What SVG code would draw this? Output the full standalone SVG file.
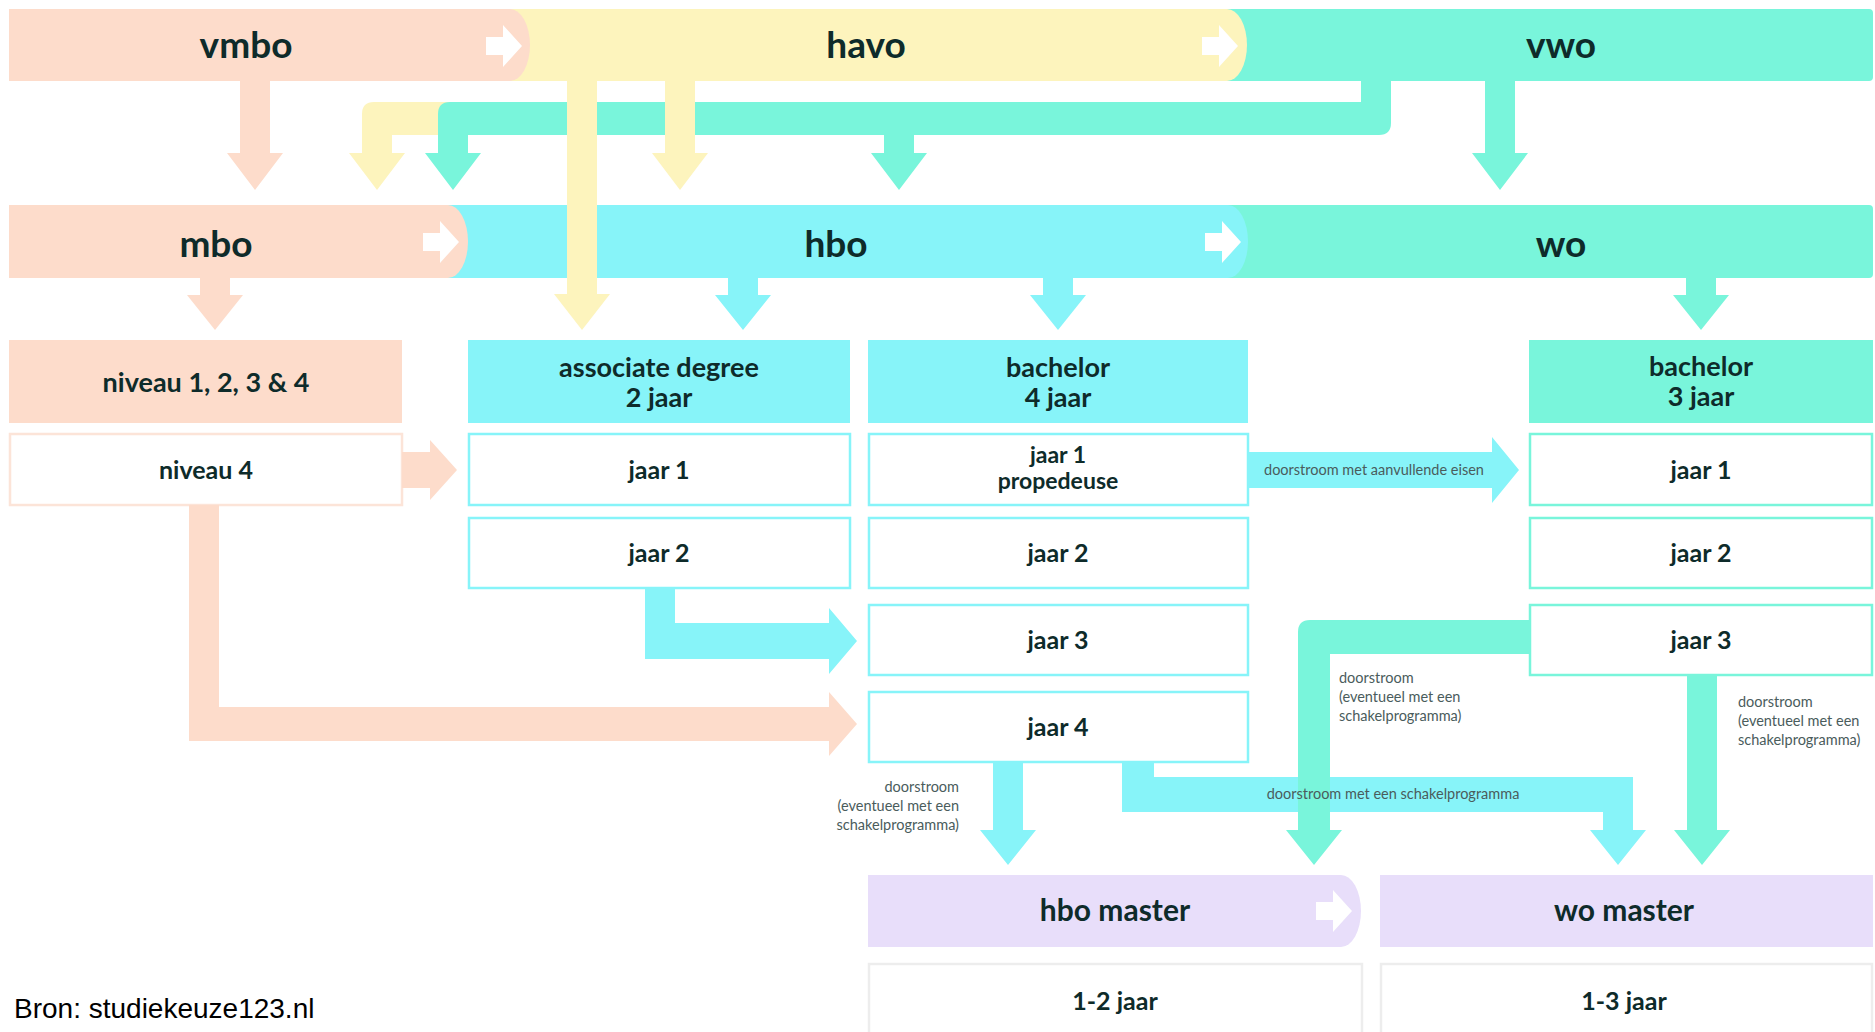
<svg xmlns="http://www.w3.org/2000/svg" width="1875" height="1032" viewBox="0 0 1875 1032">
<style>
.t{font-family:Lato,"Open Sans","DejaVu Sans",sans-serif;font-weight:700;fill:#0E2B2A;text-anchor:middle}
.big{font-size:37px}
.hd{font-size:27px}
.yr{font-size:25px}
.yr2{font-size:23px}
.ms{font-size:30px}
.lb{font-family:Lato,"Open Sans","DejaVu Sans",sans-serif;font-weight:400;font-size:14.5px;fill:#4A5C5C}
.peach{fill:#FDDCCB}
.yel{fill:#FDF4BD}
.mint{fill:#79F5DB}
.cyan{fill:#87F4F9}
.lav{fill:#E8DEFA}
.bx{fill:#FFFFFF;stroke-width:2.5}
.bc{stroke:#87F4F9}
.bm{stroke:#79F5DB}
.bp{stroke:#FCE4D8}
.bg{stroke:#EDEDED}
.wa{fill:#FFFFFF}
</style>
<defs>
<path id="warr" d="M0,-9 H17 V-21 L36,0 L17,21 V9 H0 Z"/>
</defs>
<rect width="1875" height="1032" fill="#FFFFFF"/>

<!-- row 1 bands -->
<g id="vwo">
<rect x="1200" y="9" width="673" height="72" rx="4" class="mint"/>
<text x="1561" y="58" class="t big">vwo</text>
</g>
<g id="havo">
<path d="M500,9 H1227 A20 36 0 0 1 1227,81 H500 Z" class="yel"/>
<use href="#warr" x="1202" y="46" class="wa"/>
<text x="866" y="58" class="t big">havo</text>
</g>
<g id="vmbo">
<path d="M9,9 H510 A20 36 0 0 1 510,81 H9 Z" class="peach"/>
<use href="#warr" x="486" y="46" class="wa"/>
<text x="246" y="58" class="t big">vmbo</text>
</g>

<!-- row 2 bands -->
<g id="wo">
<rect x="1220" y="205" width="653" height="73" rx="4" class="mint"/>
<text x="1561" y="257" class="t big">wo</text>
</g>
<g id="hbo">
<path d="M440,205 H1228 A20 36.5 0 0 1 1228,278 H440 Z" class="cyan"/>
<use href="#warr" x="1205" y="242" class="wa"/>
<text x="836" y="257" class="t big">hbo</text>
</g>
<g id="mbo">
<path d="M9,205 H448 A20 36.5 0 0 1 448,278 H9 Z" class="peach"/>
<use href="#warr" x="423" y="242" class="wa"/>
<text x="216" y="257" class="t big">mbo</text>
</g>

<!-- column mbo -->
<g id="niveau-1-4">
<rect x="9" y="340" width="393" height="83" class="peach"/>
<text x="206" y="392" class="t hd">niveau 1, 2, 3 &amp; 4</text>
</g>
<g id="niveau-4">
<rect x="10" y="434" width="392" height="71" class="bx bp"/>
<text x="206" y="479" class="t yr">niveau 4</text>
</g>

<!-- column associate degree -->
<g id="ad-header">
<rect x="468" y="340" width="382" height="83" class="cyan"/>
<text x="659" y="377" class="t hd">associate degree</text>
<text x="659" y="407" class="t hd">2 jaar</text>
</g>
<g id="ad-jaar1">
<rect x="469" y="434" width="381" height="71" class="bx bc"/>
<text x="659" y="479" class="t yr">jaar 1</text>
</g>
<g id="ad-jaar2">
<rect x="469" y="518" width="381" height="70" class="bx bc"/>
<text x="659" y="562" class="t yr">jaar 2</text>
</g>

<!-- column hbo bachelor -->
<g id="hbo-bachelor-header">
<rect x="868" y="340" width="380" height="83" class="cyan"/>
<text x="1058" y="377" class="t hd">bachelor</text>
<text x="1058" y="407" class="t hd">4 jaar</text>
</g>
<g id="hbo-jaar1">
<rect x="869" y="434" width="379" height="71" class="bx bc"/>
<text x="1058" y="463" class="t yr2">jaar 1</text>
<text x="1058" y="489" class="t yr2">propedeuse</text>
</g>
<g id="hbo-jaar2">
<rect x="869" y="518" width="379" height="70" class="bx bc"/>
<text x="1058" y="562" class="t yr">jaar 2</text>
</g>
<g id="hbo-jaar3">
<rect x="869" y="605" width="379" height="70" class="bx bc"/>
<text x="1058" y="649" class="t yr">jaar 3</text>
</g>
<g id="hbo-jaar4">
<rect x="869" y="692" width="379" height="70" class="bx bc"/>
<text x="1058" y="736" class="t yr">jaar 4</text>
</g>

<!-- column wo bachelor -->
<g id="wo-bachelor-header">
<rect x="1529" y="340" width="344" height="83" class="mint"/>
<text x="1701" y="376" class="t hd">bachelor</text>
<text x="1701" y="406" class="t hd">3 jaar</text>
</g>
<g id="wo-jaar1">
<rect x="1530" y="434" width="342" height="71" class="bx bm"/>
<text x="1701" y="479" class="t yr">jaar 1</text>
</g>
<g id="wo-jaar2">
<rect x="1530" y="518" width="342" height="70" class="bx bm"/>
<text x="1701" y="562" class="t yr">jaar 2</text>
</g>
<g id="wo-jaar3">
<rect x="1530" y="605" width="342" height="70" class="bx bm"/>
<text x="1701" y="649" class="t yr">jaar 3</text>
</g>

<!-- masters -->
<g id="hbo-master">
<path d="M868,875 H1341 A20 36 0 0 1 1341,947 H868 Z" class="lav"/>
<use href="#warr" x="1316" y="911" class="wa"/>
<text x="1115" y="921" class="t ms">hbo master</text>
</g>
<g id="wo-master">
<rect x="1380" y="875" width="493" height="72" class="lav"/>
<text x="1624" y="921" class="t ms">wo master</text>
</g>
<g id="hbo-master-duur">
<rect x="869" y="964" width="493" height="80" class="bx bg"/>
<text x="1115" y="1010" class="t yr">1-2 jaar</text>
</g>
<g id="wo-master-duur">
<rect x="1381" y="964" width="491" height="80" class="bx bg"/>
<text x="1624" y="1010" class="t yr">1-3 jaar</text>
</g>

<!-- connectors -->
<g id="connectors">
<path class="yel" d="M597,102 H374 Q362,102 362,114 V153 H349 L377,190 L405,153 H392 V135 H597 Z"/>
<path class="mint" d="M1361,81 H1391 V123 Q1391,135 1379,135 H468 V153 H481 L453,190 L425,153 H438 V114 Q438,102 450,102 H1361 Z"/>
<path class="mint" d="M884,130 V153 H871 L899,190 L927,153 H914 V130 Z"/>
<path class="peach" d="M240,81 V153 H227 L255,190 L283,153 H270 V81 Z"/>
<path class="yel" d="M665,81 V153 H652 L680,190 L708,153 H695 V81 Z"/>
<path class="mint" d="M1485,81 V153 H1472 L1500,190 L1528,153 H1515 V81 Z"/>
<path class="yel" d="M567,81 V294 H554 L582,330 L610,294 H597 V81 Z"/>
<path class="peach" d="M200,278 V295 H187 L215,330 L243,295 H230 V278 Z"/>
<path class="cyan" d="M728,278 V295 H715 L743,330 L771,295 H758 V278 Z"/>
<path class="cyan" d="M1043,278 V295 H1030 L1058,330 L1086,295 H1073 V278 Z"/>
<path class="mint" d="M1686,278 V295 H1673 L1701,330 L1729,295 H1716 V278 Z"/>
<path class="peach" d="M402,452 H430 V440 L457,470 L430,500 V488 H402 Z"/>
<path class="cyan" d="M1248,452 H1492 V437 L1519,470 L1492,503 V488 H1248 Z"/>
<path class="peach" d="M189,505 V741 H829 V756 L857,724 L829,692 V707 H219 V505 Z"/>
<path class="cyan" d="M645,588 V659 H829 V674 L857,641 L829,608 V623 H675 V588 Z"/>
<path class="cyan" d="M993,762 V830 H980 L1008,865 L1036,830 H1023 V762 Z"/>
<path class="cyan" d="M1122,762 V812 H1603 V830 H1590 L1618,865 L1646,830 H1633 V777 H1154 V762 Z"/>
<path class="mint" d="M1529,620 H1310 Q1298,620 1298,632 V830 H1286 L1314,865 L1342,830 H1330 V654 H1529 Z"/>
<path class="mint" d="M1687,675 V830 H1674 L1702,865 L1730,830 H1717 V675 Z"/>
<text x="1374" y="475" class="lb" text-anchor="middle">doorstroom met aanvullende eisen</text>
<text x="1393" y="799" class="lb" text-anchor="middle">doorstroom met een schakelprogramma</text>
<text class="lb" text-anchor="end"><tspan x="959" y="792">doorstroom</tspan><tspan x="959" y="811">(eventueel met een</tspan><tspan x="959" y="830">schakelprogramma)</tspan></text>
<text class="lb"><tspan x="1339" y="683">doorstroom</tspan><tspan x="1339" y="702">(eventueel met een</tspan><tspan x="1339" y="721">schakelprogramma)</tspan></text>
<text class="lb"><tspan x="1738" y="707">doorstroom</tspan><tspan x="1738" y="726">(eventueel met een</tspan><tspan x="1738" y="745">schakelprogramma)</tspan></text>
</g>

<text x="14" y="1018" font-family="'Liberation Sans',Arial,sans-serif" font-size="28" fill="#000000">Bron: studiekeuze123.nl</text>
</svg>
